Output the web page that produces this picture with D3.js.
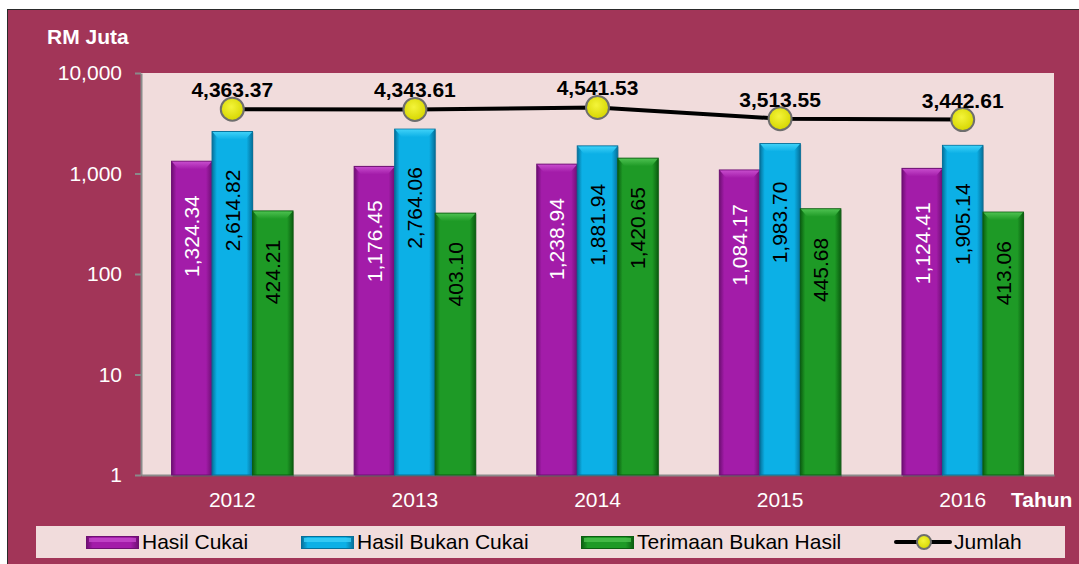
<!DOCTYPE html>
<html>
<head>
    <meta charset="utf-8">
    <script src="https://d3js.org/d3.v7.min.js"></script>
    <title>Hasil Kerajaan</title>
    <style>
        body { margin: 0; background: #fff; }
        svg text { font-family: "Liberation Sans", Arial, sans-serif; }
    </style>
</head>
<body>
    <svg id="chart"></svg>
    <script>
        // data
        var years = ['2012', '2013', '2014', '2015', '2016']
        var hasilCukai = [1324.34, 1176.45, 1238.94, 1084.17, 1124.41]
        var hasilBukanCukai = [2614.82, 2764.06, 1881.94, 1983.70, 1905.14]
        var terimaanBukanHasil = [424.21, 403.10, 1420.65, 445.68, 413.06]
        var jumlah = [4363.37, 4343.61, 4541.53, 3513.55, 3442.61]
        var yTicks = [1, 10, 100, 1000, 10000]

        var series = [
            { key: 'cukai', name: 'Hasil Cukai', values: hasilCukai, base: '#a31ca9', light: '#c64bcc', dark: '#6e0f73', text: '#fff', off: 34 },
            { key: 'bukan', name: 'Hasil Bukan Cukai', values: hasilBukanCukai, base: '#0cb0e6', light: '#3dd0f7', dark: '#05709a', text: '#000', off: 38 },
            { key: 'terimaan', name: 'Terimaan Bukan Hasil', values: terimaanBukanHasil, base: '#1e9a26', light: '#4cc04f', dark: '#0b5e10', text: '#000', off: 29 }
        ]

        var W = 1079, H = 564
        var plot = { left: 141, top: 73, right: 1054, bottom: 475 }
        var fmt = d3.format(',.2f')
        var fs = 21

        var svg = d3.select('#chart').attr('width', W).attr('height', H)
        var defs = svg.append('defs')

        // cylinder-ish gradients for bars
        series.forEach(function (s) {
            var g = defs.append('linearGradient').attr('id', 'g-' + s.key)
                .attr('x1', '0').attr('x2', '1').attr('y1', '0').attr('y2', '0')
            g.append('stop').attr('offset', '0%').attr('stop-color', s.dark)
            g.append('stop').attr('offset', '12%').attr('stop-color', s.base)
            g.append('stop').attr('offset', '45%').attr('stop-color', s.base)
            g.append('stop').attr('offset', '85%').attr('stop-color', s.base)
            g.append('stop').attr('offset', '100%').attr('stop-color', s.dark)
            var c = defs.append('linearGradient').attr('id', 'c-' + s.key)
                .attr('x1', '0').attr('x2', '0').attr('y1', '0').attr('y2', '1')
            c.append('stop').attr('offset', '0%').attr('stop-color', s.light)
            c.append('stop').attr('offset', '100%').attr('stop-color', s.base)
        })
        var mg = defs.append('radialGradient').attr('id', 'marker').attr('cx', '45%').attr('cy', '40%').attr('r', '60%')
        mg.append('stop').attr('offset', '0%').attr('stop-color', '#f4f43a')
        mg.append('stop').attr('offset', '100%').attr('stop-color', '#d6d600')

        // background
        svg.append('rect').attr('x', 7.5).attr('y', 9.5).attr('width', W).attr('height', H)
            .attr('fill', '#a23558').attr('stroke', '#2a2a2a').attr('stroke-width', 1)
        svg.append('rect').attr('x', plot.left).attr('y', plot.top)
            .attr('width', plot.right - plot.left).attr('height', plot.bottom - plot.top)
            .attr('fill', '#f1dcdc')

        var x = d3.scaleBand().domain(years).range([plot.left, plot.right])
        var xSub = d3.scaleBand().domain(series.map(function (s) { return s.key })).range([-60.75, 60.75])
        var y = d3.scaleLog().domain([1, 10000]).range([plot.bottom, plot.top])

        // axes
        var yAxis = svg.append('g').attr('transform', 'translate(' + plot.left + ',0)')
            .call(d3.axisLeft(y).tickValues(yTicks).tickFormat(d3.format(',')).tickSize(6).tickSizeOuter(0).tickPadding(13))
        yAxis.select('.domain').attr('stroke', '#8a8a8a').attr('stroke-width', 2)
        yAxis.selectAll('.tick line').attr('stroke', '#8a8a8a').attr('stroke-width', 2)
        yAxis.selectAll('.tick text').attr('fill', '#fff').attr('font-size', fs)

        var xAxis = svg.append('g').attr('transform', 'translate(0,' + plot.bottom + ')')
            .call(d3.axisBottom(x).tickSize(0).tickSizeOuter(0).tickPadding(17))
        xAxis.select('.domain').attr('stroke', '#8a8a8a').attr('stroke-width', 2)
        xAxis.selectAll('.tick text').attr('fill', '#fff').attr('font-size', fs)

        svg.append('text').attr('x', 47).attr('y', 44).attr('fill', '#fff')
            .attr('font-size', fs).attr('font-weight', 'bold').text('RM Juta')
        svg.append('text').attr('x', 1011).attr('y', 507).attr('fill', '#fff')
            .attr('font-size', fs).attr('font-weight', 'bold').text('Tahun')

        // bars
        series.forEach(function (s) {
            var g = svg.append('g').attr('class', 'bars-' + s.key)
            var bw = xSub.bandwidth()
            var bars = g.selectAll('g').data(s.values).enter().append('g')
                .attr('transform', function (d, i) { return 'translate(' + (x(years[i]) + x.bandwidth() / 2 + xSub(s.key)) + ',0)' })
            bars.append('rect')
                .attr('x', 1).attr('y', function (d) { return y(d) + 1 })
                .attr('width', bw).attr('height', function (d) { return plot.bottom - y(d) + 1 })
                .attr('fill', 'rgba(0,0,0,0.18)')
            bars.append('rect')
                .attr('x', 0).attr('y', function (d) { return y(d) })
                .attr('width', bw).attr('height', function (d) { return plot.bottom - y(d) })
                .attr('fill', 'url(#g-' + s.key + ')')
                .attr('stroke', s.dark).attr('stroke-width', 1)
            bars.append('path')
                .attr('d', function (d) {
                    var t = y(d)
                    return 'M0.5,' + (t + 0.5) + 'L' + (bw - 0.5) + ',' + (t + 0.5) + 'L' + (bw - 7) + ',' + (t + 8) + 'L7,' + (t + 8) + 'Z'
                })
                .attr('fill', 'url(#c-' + s.key + ')')
            bars.append('text')
                .attr('transform', function (d) { return 'translate(' + (bw / 2) + ',' + (y(d) + s.off) + ') rotate(-90)' })
                .attr('text-anchor', 'end').attr('dy', '0.35em')
                .attr('fill', s.text).attr('font-size', fs)
                .text(function (d) { return fmt(d) })
        })

        // jumlah line
        var cx = function (d, i) { return x(years[i]) + x.bandwidth() / 2 }
        var line = d3.line().x(cx).y(function (d) { return y(d) })
        svg.append('path').datum(jumlah).attr('d', line)
            .attr('fill', 'none').attr('stroke', '#000').attr('stroke-width', 4)
        svg.selectAll('circle.jm').data(jumlah).enter().append('circle').attr('class', 'jm')
            .attr('cx', cx).attr('cy', function (d) { return y(d) }).attr('r', 11.5)
            .attr('fill', 'url(#marker)').attr('stroke', '#6e6e6e').attr('stroke-width', 2)
        svg.selectAll('text.jm').data(jumlah).enter().append('text').attr('class', 'jm')
            .attr('x', cx).attr('y', function (d) { return y(d) - 12 })
            .attr('text-anchor', 'middle').attr('font-size', fs).attr('font-weight', 'bold')
            .text(function (d) { return fmt(d) })

        // legend
        var legend = svg.append('g')
        legend.append('rect').attr('x', 36).attr('y', 526).attr('width', 1029).attr('height', 32).attr('fill', '#f1dcdc')
        var legendX = [86, 301, 581]
        series.forEach(function (s, i) {
            legend.append('rect').attr('x', legendX[i] + 0.5).attr('y', 536.5).attr('width', 52).attr('height', 12)
                .attr('fill', 'url(#g-' + s.key + ')').attr('stroke', s.dark)
            legend.append('rect').attr('x', legendX[i] + 3).attr('y', 538).attr('width', 47).attr('height', 4)
                .attr('fill', s.light).attr('opacity', 0.8)
            legend.append('text').attr('x', legendX[i] + 56).attr('y', 549).attr('font-size', fs).attr('fill', '#000').text(s.name)
        })
        legend.append('line').attr('x1', 896).attr('x2', 950).attr('y1', 542).attr('y2', 542)
            .attr('stroke', '#000').attr('stroke-width', 4).attr('stroke-linecap', 'round')
        legend.append('circle').attr('cx', 924).attr('cy', 542).attr('r', 7)
            .attr('fill', 'url(#marker)').attr('stroke', '#6e6e6e').attr('stroke-width', 2)
        legend.append('text').attr('x', 954).attr('y', 549).attr('font-size', fs).attr('fill', '#000').text('Jumlah')
    </script>
</body>
</html>
